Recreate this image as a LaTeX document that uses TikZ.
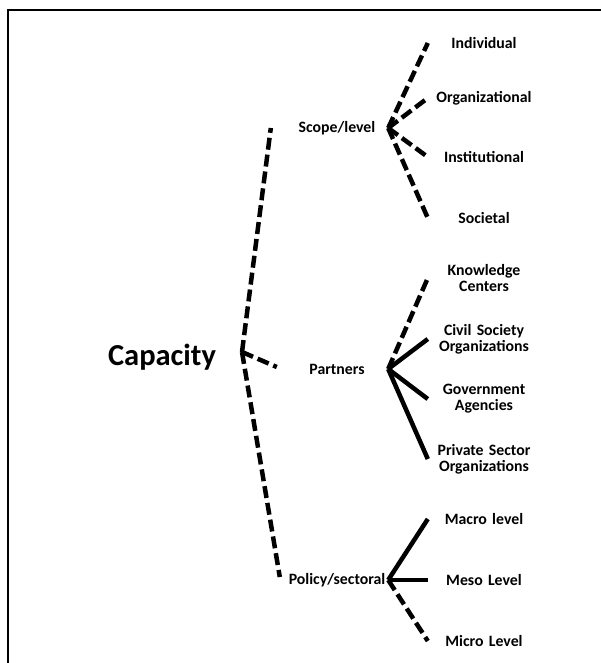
\documentclass[tikz,border=0pt]{standalone}
\usepackage{fontspec}
\setmainfont{Carlito}[WordSpace=0.65]
\usetikzlibrary{positioning}

\begin{document}
\begin{tikzpicture}[x=1pt,y=-1pt,
  root/.style={font=\bfseries\fontsize{30.5}{36}\selectfont,inner sep=0pt},
  mid/.style={font=\bfseries\fontsize{15.8}{16}\selectfont,text width=102pt,align=center,inner sep=0pt},
  leaf/.style={font=\bfseries\fontsize{15.8}{16}\selectfont,text width=112pt,align=center,inner sep=0pt},
  link/.style={line width=4.5pt},
  dlink/.style={link,dash pattern=on 12pt off 5pt}]
\useasboundingbox (0,0) rectangle (601,663);
\draw[line width=1.5pt] (8,663) -- (8,10) -- (601,10);
\node[root] (cap) at (162,357) {Capacity};
\coordinate (hub) at (242,352);
\node[mid] (scope) at (337,128) {Scope/level};
\node[mid] (partners) at (337,369) {Partners};
\node[mid] (policy) at (337,580) {Policy/sectoral};
\node[leaf] (ind) at (484,43) {Individual};
\node[leaf] (org) at (484,98) {Organizational};
\node[leaf] (inst) at (484,157) {Institutional};
\node[leaf] (soc) at (484,218) {Societal};
\node[leaf] (know) at (484,278) {Knowledge\\Centers};
\node[leaf] (civil) at (484,339) {Civil Society\\Organizations};
\node[leaf] (gov) at (484,399) {Government\\Agencies};
\node[leaf] (priv) at (484,459) {Private Sector\\Organizations};
\node[leaf] (macro) at (484,519) {Macro level};
\node[leaf] (meso) at (484,580) {Meso Level};
\node[leaf] (micro) at (484,641) {Micro Level};
\draw[dlink] (hub) -- ([xshift=-15pt]scope.west);
\draw[dlink] (hub) -- ([xshift=-9pt,yshift=2pt]partners.west);
\draw[dlink] (hub) -- ([xshift=-6pt,yshift=3pt]policy.west);
\draw[dlink] (scope.east) -- (ind.west);
\draw[dlink] (scope.east) -- (org.west);
\draw[dlink] (scope.east) -- (inst.west);
\draw[dlink] (scope.east) -- (soc.west);
\draw[dlink] (partners.east) -- (know.west);
\draw[link] (partners.east) -- (civil.west);
\draw[link] (partners.east) -- (gov.west);
\draw[link] (partners.east) -- (priv.west);
\draw[link] (policy.east) -- (macro.west);
\draw[link] (policy.east) -- (meso.west);
\draw[dlink] (policy.east) -- (micro.west);
\end{tikzpicture}
\end{document}
